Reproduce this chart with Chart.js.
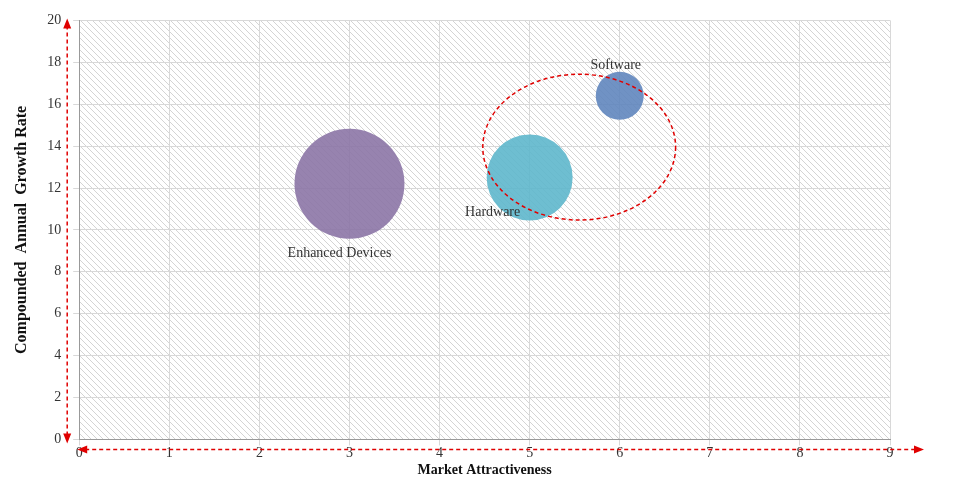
<!DOCTYPE html>
<html>
<head>
<meta charset="utf-8">
<script src="https://cdn.jsdelivr.net/npm/chart.js@4"></script>
<style>
  body { margin: 0; background: #fff; }
  #wrap { width: 954px; height: 493px; }
</style>
</head>
<body>
<div id="wrap"><canvas id="bubble-chart"></canvas></div>
<script>
const segments = ['Enhanced Devices', 'Hardware', 'Software'];
const attractiveness = [3, 5, 6];
const growthRate = [12.2, 12.5, 16.4];
const bubbleRadius = [55, 43, 24];
const bubbleColors = ['rgba(140,118,166,0.9)', 'rgba(94,183,204,0.9)', 'rgba(96,134,190,0.9)'];
const labelOffsets = [[-10, 70], [-37, 35], [-4, -30]];
const xTicks = [0, 1, 2, 3, 4, 5, 6, 7, 8, 9];
const yTicks = [0, 2, 4, 6, 8, 10, 12, 14, 16, 18, 20];
// ellipse around the hardware/software cluster, in data units
const highlight = { x: 5.55, y: 13.95, rx: 1.07, ry: 3.48 };

const serif = '"Liberation Serif", "DejaVu Serif", serif';

function hatchPattern(ctx) {
    const c = document.createElement('canvas');
    c.width = 6; c.height = 6;
    const p = c.getContext('2d');
    p.fillStyle = '#fff';
    p.fillRect(0, 0, 6, 6);
    p.strokeStyle = '#d4d4d4';
    p.lineWidth = 1;
    p.beginPath();
    p.moveTo(0, 0); p.lineTo(6, 6);
    p.moveTo(-3, 3); p.lineTo(3, 9);
    p.moveTo(3, -3); p.lineTo(9, 3);
    p.stroke();
    return ctx.createPattern(c, 'repeat');
}

const backdrop = {
    id: 'backdrop',
    beforeDraw(chart) {
        const { ctx, chartArea: a } = chart;
        ctx.save();
        ctx.fillStyle = hatchPattern(ctx);
        ctx.fillRect(a.left, a.top, a.right - a.left, a.bottom - a.top);
        ctx.restore();
    },
    afterDatasetsDraw(chart) {
        const { ctx, chartArea: a, scales: { x, y } } = chart;
        ctx.save();
        // labels
        ctx.font = '14px ' + serif;
        ctx.fillStyle = '#333';
        ctx.textAlign = 'center';
        ctx.textBaseline = 'middle';
        segments.forEach((s, i) => {
            ctx.fillText(s, x.getPixelForValue(attractiveness[i]) + labelOffsets[i][0],
                y.getPixelForValue(growthRate[i]) + labelOffsets[i][1]);
        });
        // dashed ellipse
        ctx.strokeStyle = '#e00000';
        ctx.lineWidth = 1.5;
        ctx.setLineDash([4, 3]);
        const cx = x.getPixelForValue(highlight.x), cy = y.getPixelForValue(highlight.y);
        const rx = x.getPixelForValue(highlight.x + highlight.rx) - cx;
        const ry = cy - y.getPixelForValue(highlight.y + highlight.ry);
        ctx.beginPath();
        ctx.ellipse(cx, cy, rx, ry, 0, 0, Math.PI * 2);
        ctx.stroke();
        // axis arrows
        const ax = a.left - 12, ay = a.bottom + 10;
        ctx.beginPath();
        ctx.moveTo(ax, a.bottom - 4); ctx.lineTo(ax, a.top + 6);
        ctx.moveTo(a.left + 6, ay); ctx.lineTo(a.right + 26, ay);
        ctx.stroke();
        ctx.setLineDash([]);
        ctx.fillStyle = '#e00000';
        const tri = (pts) => { ctx.beginPath(); ctx.moveTo(...pts[0]); ctx.lineTo(...pts[1]); ctx.lineTo(...pts[2]); ctx.closePath(); ctx.fill(); };
        tri([[ax, a.top - 2], [ax - 4, a.top + 8], [ax + 4, a.top + 8]]);
        tri([[ax, a.bottom + 4], [ax - 4, a.bottom - 6], [ax + 4, a.bottom - 6]]);
        tri([[a.left - 2, ay], [a.left + 8, ay - 4], [a.left + 8, ay + 4]]);
        tri([[a.right + 34, ay], [a.right + 24, ay - 4], [a.right + 24, ay + 4]]);
        ctx.restore();
    }
};

new Chart(document.getElementById('bubble-chart').getContext('2d'), {
    type: 'bubble',
    data: {
        datasets: segments.map((s, i) => ({
            label: s,
            data: [{ x: attractiveness[i], y: growthRate[i], r: bubbleRadius[i] }],
            backgroundColor: bubbleColors[i],
            borderWidth: 0
        }))
    },
    options: {
        responsive: true,
        maintainAspectRatio: false,
        animation: false,
        layout: { autoPadding: false, padding: { top: 20, right: 64, bottom: 10, left: 8 } },
        plugins: { legend: { display: false }, tooltip: { enabled: false } },
        scales: {
            x: {
                min: 0, max: 9,
                afterBuildTicks: s => { s.ticks = xTicks.map(v => ({ value: v })); },
                grid: { color: '#d8d8d8', tickLength: 6 },
                border: { color: '#999' },
                ticks: { color: '#333', font: { family: serif, size: 14 }, padding: 0 },
                title: { display: true, text: 'Market Attractiveness', color: '#111', font: { family: serif, size: 14, weight: 'bold' }, padding: { top: 0 } }
            },
            y: {
                min: 0, max: 20,
                afterBuildTicks: s => { s.ticks = yTicks.map(v => ({ value: v })); },
                grid: { color: '#d8d8d8', tickLength: 6 },
                border: { color: '#999' },
                ticks: { color: '#333', font: { family: serif, size: 14 }, padding: 12 },
                title: { display: true, text: 'Compounded  Annual  Growth Rate', color: '#111', font: { family: serif, size: 16, weight: 'bold' }, padding: { bottom: 4 } }
            }
        }
    },
    plugins: [backdrop]
});
</script>
</body>
</html>
